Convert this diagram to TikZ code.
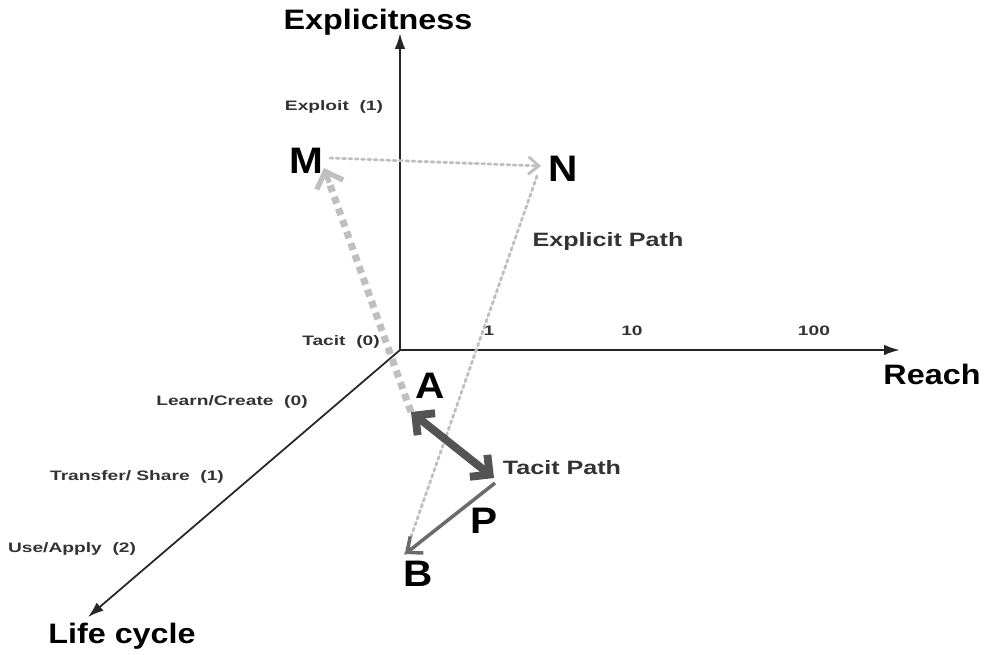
\documentclass[tikz,border=0pt]{standalone}
\usepackage{fontspec}
\usepackage{graphicx}
\setmainfont{Liberation Sans}
\usetikzlibrary{arrows.meta,calc}
\definecolor{lightpath}{gray}{0.75}
\definecolor{darkpath}{gray}{0.33}
\definecolor{midpath}{gray}{0.42}
\newcommand{\xwide}[2]{\scalebox{#1}[1]{#2}}
\begin{document}
\begin{tikzpicture}[x=0.02cm, y=-0.02cm,
        axis/.style={-{Latex[length=9pt,width=6pt]}, line width=1.3pt, black!85},
        title/.style={font=\fontsize{16}{18}\selectfont\bfseries, inner sep=0pt},
        letter/.style={font=\fontsize{21}{23}\selectfont\bfseries, inner sep=0pt},
        small/.style={font=\fontsize{7.8}{9}\selectfont\bfseries, text=black!80, inner sep=0pt},
        pathlabel/.style={font=\fontsize{11}{13}\selectfont\bfseries, text=black!80, inner sep=0pt},
        explicit/.style={lightpath, line width=1.6pt, dotted, line cap=round},
        barb/.style={-{Straight Barb[length=6pt,width=10pt]}}
    ]
        \useasboundingbox (0,0) rectangle (985,654);

        % axes
        \coordinate (origin) at (400,350);
        \coordinate (top) at (400,33);
        \coordinate (right) at (900,350);
        \coordinate (lower) at (88,617);
        \draw[axis] (origin) -- (top);
        \draw[axis] (origin) -- (right);
        \draw[axis, line width=1pt] (origin) -- (lower);

        \node[title] (explicitness) at (378,22) {\xwide{1.15}{Explicitness}};
        \node[title] (reach) at (932,374) {\xwide{1.15}{Reach}};
        \node[title] (lifecycle) at (122,636) {\xwide{1.15}{Life cycle}};

        % scale labels
        \node[small] (exploit) at (334,107) {\xwide{1.4}{Exploit\ \ (1)}};
        \node[small] (tacit) at (341,342) {\xwide{1.4}{Tacit\ \ (0)}};
        \node[small] (one) at (489,331) {\xwide{1.4}{1}};
        \node[small] (ten) at (632,331) {\xwide{1.4}{10}};
        \node[small] (hundred) at (814,331) {\xwide{1.4}{100}};
        \node[small] (learn) at (232,402) {\xwide{1.4}{Learn/Create\ \ (0)}};
        \node[small] (transfer) at (137,477) {\xwide{1.4}{Transfer/ Share\ \ (1)}};
        \node[small] (use) at (72,549) {\xwide{1.4}{Use/Apply\ \ (2)}};

        % points
        \node[letter] (m) at (306,161) {\xwide{1.1}{M}};
        \node[letter] (n) at (563,169) {\xwide{1.1}{N}};
        \node[letter] (a) at (430,386) {\xwide{1.1}{A}};
        \node[letter] (b) at (418,574) {\xwide{1.1}{B}};
        \node[letter] (p) at (484,521) {\xwide{1.1}{P}};
        \node[pathlabel] (tacitpath) at (562,468) {\xwide{1.3}{Tacit\ Path}};
        \node[pathlabel] (explicitpath) at (608,241) {\xwide{1.3}{Explicit Path}};

        \coordinate (mtip) at (324,168);
        \coordinate (mleft) at (330,158);
        \coordinate (ntip) at (541,166);
        \coordinate (nfoot) at (537,176);
        \coordinate (atip) at (411,412);
        \coordinate (ttip) at (494,478);
        \coordinate (pstart) at (495,483);
        \coordinate (btip) at (405,554);

        % explicit path
        \draw[explicit, barb] (mleft) -- (ntip);
        \draw[explicit] (nfoot) -- (btip);
        \draw[lightpath, line width=4pt, dash pattern=on 4pt off 3pt] (atip) -- ($(mtip)!0.06!(atip)$);
        \draw[lightpath, line width=3pt, -{Straight Barb[length=8pt,width=16pt]}] ($(mtip)!0.06!(atip)$) -- (mtip);

        % tacit path
        \draw[darkpath, line width=4.5pt, {Straight Barb[length=8pt,width=16pt]}-{Straight Barb[length=8pt,width=16pt]}] (atip) -- (ttip);
        \draw[midpath, line width=2pt, -{Straight Barb[length=7pt,width=12pt]}] (pstart) -- (btip);
    \end{tikzpicture}
\end{document}
